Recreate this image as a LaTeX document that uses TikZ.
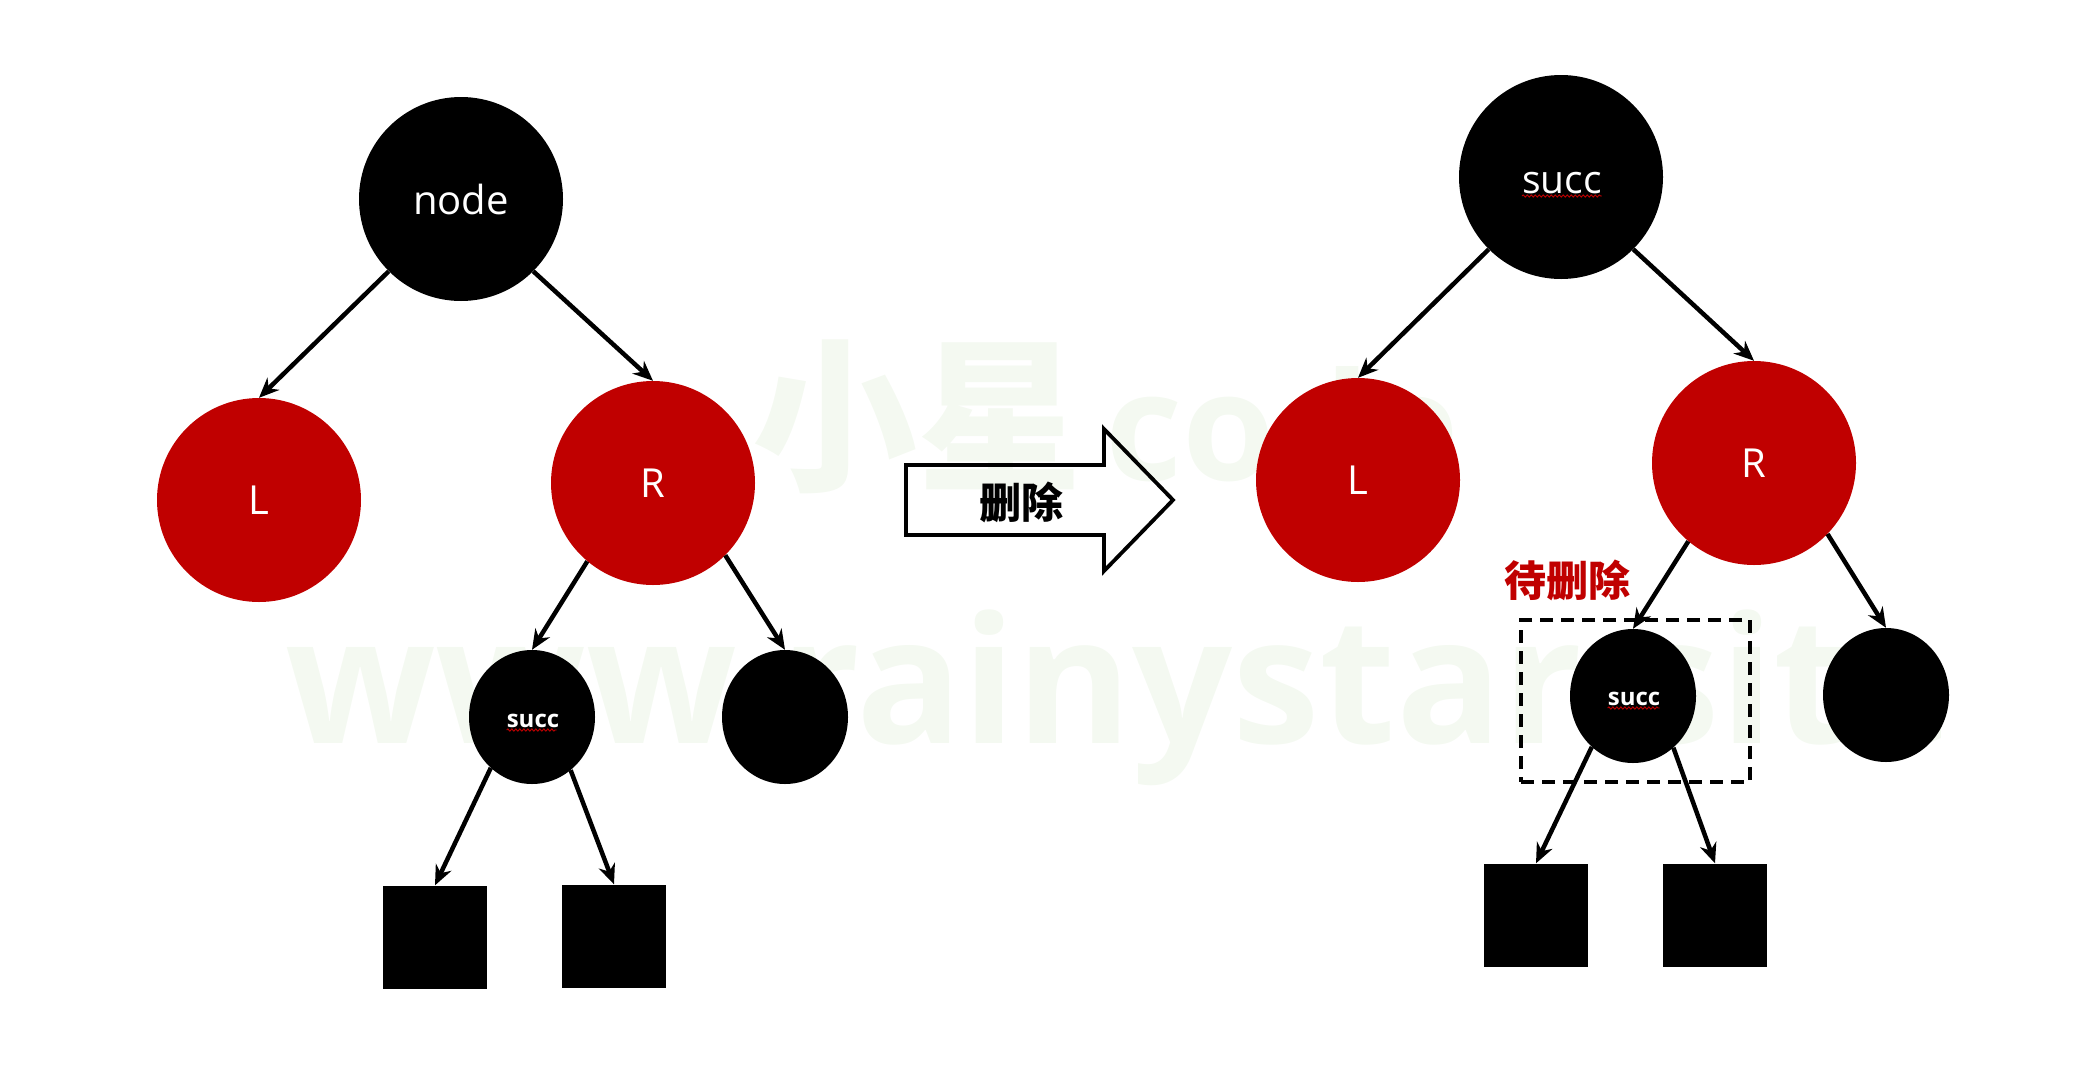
\documentclass[tikz,border=0pt]{standalone}
\usepackage{fontspec}
\setmainfont{Open Sans}
\newfontfamily\cjk{Noto Sans CJK SC}
\newfontfamily\wmfont{Open Sans}
\usetikzlibrary{arrows.meta,shapes.geometric,decorations.pathmorphing}
\definecolor{dred}{RGB}{192,0,0}
\definecolor{wm}{RGB}{244,249,241}
\tikzset{
  big/.style={circle,fill=#1,minimum size=204pt,inner sep=0pt,text=white,font=\fontsize{40}{40}\selectfont},
  small/.style={ellipse,fill=black,minimum width=126pt,minimum height=134pt,inner sep=0pt},
  leaf/.style={rectangle,fill=black,minimum width=104pt,minimum height=103pt,inner sep=0pt},
  arr/.style={-{Stealth[length=20pt,width=17pt]},line width=4.5pt,black},
  squig/.style={dred,line width=0.9pt,decorate,decoration={snake,segment length=4pt,amplitude=1.1pt}},
  lbl/.style={inner sep=0pt,anchor=base,text=white}
}
\begin{document}
\begin{tikzpicture}[x=1pt,y=-1pt]
\useasboundingbox (0,0) rectangle (2090,1082);
% watermark
\node[anchor=base west,inner sep=0pt,text=wm,font=\cjk\bfseries\fontsize{165}{165}\selectfont] (wm1) at (752,478) {小星};
\node[anchor=base west,inner sep=0pt,text=wm,font=\wmfont\bfseries\fontsize{150}{150}\selectfont] (wm2) at (1105,480) {code};
\node[anchor=base west,inner sep=0pt,text=wm,font=\wmfont\bfseries\fontsize{176}{176}\selectfont] (wm3) at (285,743) {www.rainystar.site};

% left tree
\node[big=black] (n) at (461,199) {node};
\node[big=dred] (l) at (259,500) {L};
\node[big=dred] (r) at (653,483) {R};
\node[small] (s) at (532,717) {};
\node[small] (b) at (785,717) {};
\node[leaf] (q1) at (435,937) {};
\node[leaf] (q2) at (614,936) {};
\node[lbl,font=\bfseries\fontsize{24}{24}\selectfont] (st) at (533,727) {succ};
\draw[squig] (st.base west) ++(0,3) coordinate (sqa) -- ++(50,0);
\draw[arr] (n.225) -- (l.90);
\draw[arr] (n.-45) -- (r.90);
\draw[arr] (r.230) -- (s.90);
\draw[arr] (r.-45) -- (b.90);
\draw[arr] (s.231) -- (q1.north);
\draw[arr] (s.306) -- (q2.north);

% block arrow
\draw[line width=3.8pt,line join=miter] (906,465) coordinate (ba1) -- (1104,465) -- (1104,429) -- (1173,500) -- (1104,571) -- (1104,535) -- (906,535) -- cycle;
\node[inner sep=0pt,font=\cjk\bfseries\fontsize{42}{42}\selectfont] (del) at (1021,502) {删除};

% right tree
\node[big=black] (n2) at (1561,177) {};
\node[lbl,font=\fontsize{39}{39}\selectfont] (st2) at (1562,193) {succ};
\draw[squig] (st2.base west) ++(0,3) -- ++(80,0);
\node[big=dred] (l2) at (1358,480) {L};
\node[big=dred] (r2) at (1754,463) {R};
\node[small] (s2) at (1633,696) {};
\node[small] (b2) at (1886,695) {};
\node[leaf] (p1) at (1536,915) {};
\node[leaf] (p2) at (1715,915) {};
\node[lbl,font=\bfseries\fontsize{24}{24}\selectfont] (st3) at (1634,705) {succ};
\draw[squig] (st3.base west) ++(0,3) -- ++(52,0);
\node[draw,line width=4pt,dash pattern=on 13pt off 8pt,minimum width=229pt,minimum height=162pt,inner sep=0pt] (box) at (1635.5,701) {};
\node[inner sep=0pt,text=dred,font=\cjk\bfseries\fontsize{42}{42}\selectfont] (td) at (1567,580) {待删除};
\draw[arr] (n2.225) -- (l2.90);
\draw[arr] (n2.-45) -- (r2.90);
\draw[arr] (r2.230) -- (s2.90);
\draw[arr] (r2.-44) -- (b2.90);
\draw[arr] (s2.231) -- (p1.north);
\draw[arr] (s2.308) -- (p2.north);
\end{tikzpicture}
\end{document}
